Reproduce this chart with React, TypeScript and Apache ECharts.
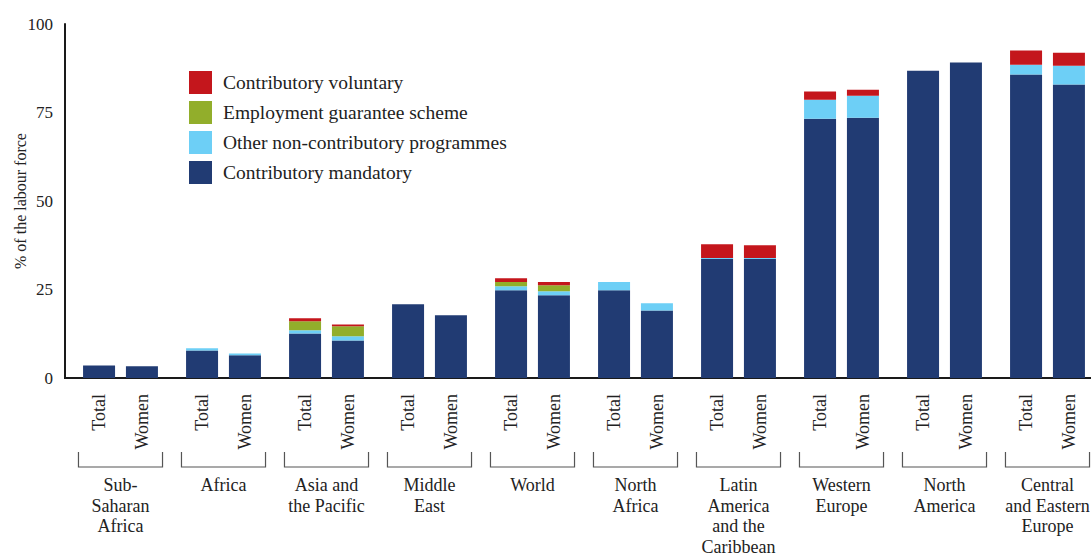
import React, { useEffect, useRef } from "react";
import * as echarts from "echarts";

const regions = [
  "Sub-\nSaharan\nAfrica",
  "Africa",
  "Asia and\nthe Pacific",
  "Middle\nEast",
  "World",
  "North\nAfrica",
  "Latin\nAmerica\nand the\nCaribbean",
  "Western\nEurope",
  "North\nAmerica",
  "Central\nand Eastern\nEurope",
];

const mandatoryTotal = [3.5, 7.8, 12.6, 20.8, 24.8, 24.8, 33.6, 73.2, 86.8, 85.7];
const mandatoryWomen = [3.3, 6.4, 10.6, 17.7, 23.4, 19.1, 33.6, 73.5, 89.1, 82.9];
const otherTotal = [0, 0.6, 0.9, 0, 1.1, 2.3, 0.3, 5.4, 0, 2.8];
const otherWomen = [0, 0.5, 1.2, 0, 1.1, 2.0, 0.3, 6.2, 0, 5.3];
const employmentTotal = [0, 0, 2.5, 0, 1.2, 0, 0, 0, 0, 0];
const employmentWomen = [0, 0, 2.8, 0, 1.7, 0, 0, 0, 0, 0];
const voluntaryTotal = [0, 0, 0.9, 0, 1.1, 0, 3.9, 2.3, 0, 4.0];
const voluntaryWomen = [0, 0, 0.5, 0, 0.9, 0, 3.6, 1.7, 0, 3.7];

const yTicks = [0, 25, 50, 75, 100];

const NAMES = {
  vol: "Contributory voluntary",
  emp: "Employment guarantee scheme",
  oth: "Other non-contributory programmes",
  man: "Contributory mandatory",
};
const COLORS = {
  vol: "#C4161C",
  emp: "#92AE2B",
  oth: "#6DCFF6",
  man: "#213B73",
};

const FONT = "'Liberation Serif', 'DejaVu Serif', serif";
const TEXT = "#222222";

export default function App() {
  const ref = useRef<HTMLDivElement>(null);

  useEffect(() => {
    document.body.style.margin = "0";
    if (!ref.current) return;
    const chart = echarts.init(ref.current, null, { renderer: "svg" });

    const subLabel = (txt: string) => ({
      show: true,
      position: ["50%", "100%"],
      offset: [-16, 0],
      rotate: 90,
      align: "right",
      verticalAlign: "middle",
      formatter: txt,
      fontSize: 18,
      fontFamily: FONT,
      color: TEXT,
    });

    const barSeries = (
      name: string,
      color: string,
      data: number[],
      stack: string,
      label?: any
    ) => ({
      type: "bar",
      name,
      stack,
      data,
      barWidth: 32,
      barGap: "34%",
      itemStyle: { color },
      label: label || { show: false },
      emphasis: { disabled: true },
    });

    const option: any = {
      animation: false,
      textStyle: { fontFamily: FONT },
      grid: {
        left: 69,
        top: 24,
        width: 1030,
        bottom: 178,
        containLabel: false,
        outerBoundsMode: "none",
      },
      legend: {
        orient: "vertical",
        left: 189,
        top: 71,
        padding: 0,
        itemWidth: 23,
        itemHeight: 23,
        itemGap: 7,
        icon: "rect",
        selectedMode: false,
        data: [NAMES.vol, NAMES.emp, NAMES.oth, NAMES.man],
        textStyle: { fontSize: 19.5, fontFamily: FONT, color: TEXT, padding: [0, 0, 0, 6] },
      },
      xAxis: {
        type: "category",
        data: regions,
        axisLine: { lineStyle: { color: "#1a1a1a", width: 2 } },
        axisTick: { show: false },
        axisLabel: {
          interval: 0,
          margin: 97,
          fontSize: 18,
          lineHeight: 20.5,
          fontFamily: FONT,
          color: TEXT,
          align: "center",
        },
      },
      yAxis: {
        type: "value",
        min: yTicks[0],
        max: yTicks[yTicks.length - 1],
        interval: 25,
        offset: 4,
        name: "% of the labour force",
        nameLocation: "middle",
        nameGap: 37,
        nameMoveOverlap: false,
        nameTextStyle: { fontSize: 16, fontFamily: FONT, color: TEXT },
        axisLine: { show: true, lineStyle: { color: "#1a1a1a", width: 2 } },
        axisTick: { show: false },
        splitLine: { show: false },
        axisLabel: { margin: 12, fontSize: 17, fontFamily: FONT, color: TEXT },
      },
      graphic: [
        {
          type: "line",
          shape: { x1: 64, y1: 378, x2: 70, y2: 378 },
          style: { stroke: "#1a1a1a", lineWidth: 2 },
        },
      ],
      series: [
        barSeries(NAMES.man, COLORS.man, mandatoryTotal, "total", subLabel("Total")),
        barSeries(NAMES.oth, COLORS.oth, otherTotal, "total"),
        barSeries(NAMES.emp, COLORS.emp, employmentTotal, "total"),
        barSeries(NAMES.vol, COLORS.vol, voluntaryTotal, "total"),
        barSeries(NAMES.man, COLORS.man, mandatoryWomen, "women", subLabel("Women")),
        barSeries(NAMES.oth, COLORS.oth, otherWomen, "women"),
        barSeries(NAMES.emp, COLORS.emp, employmentWomen, "women"),
        barSeries(NAMES.vol, COLORS.vol, voluntaryWomen, "women"),
        {
          type: "custom",
          name: "brackets",
          silent: true,
          clip: false,
          data: regions.map((_, i) => [i, 0]),
          encode: { x: 0, y: 1 },
          renderItem: (params: any, api: any) => {
            const pt = api.coord([api.value(0), 0]);
            const bw = api.size([1, 0])[0];
            const half = bw * 0.408;
            return {
              type: "polyline",
              shape: {
                points: [
                  [pt[0] - half, pt[1] + 74],
                  [pt[0] - half, pt[1] + 89],
                  [pt[0] + half, pt[1] + 89],
                  [pt[0] + half, pt[1] + 74],
                ],
              },
              style: { stroke: "#555555", lineWidth: 1.2, fill: null },
            };
          },
        },
      ],
    };

    chart.setOption(option);
    return () => chart.dispose();
  }, []);

  return <div ref={ref} style={{ width: 1091, height: 556 }} />;
}
